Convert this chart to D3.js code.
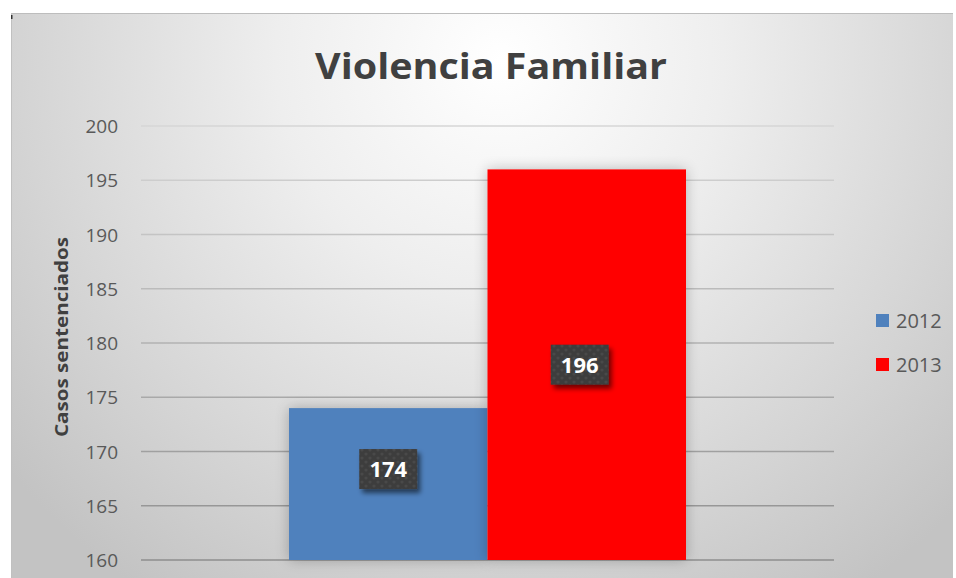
<!DOCTYPE html>
<html><head><meta charset="utf-8">
<script src="https://cdn.jsdelivr.net/npm/d3@7"></script>
<style>html,body{margin:0;padding:0;background:#fff;}svg{display:block;}</style>
</head><body>
<script>
const categories = ["Violencia Familiar"];
const seriesNames = ["2012", "2013"];
const seriesValues = [174, 196];
const seriesColors = ["#4f81bd", "#ff0000"];
const yTicks = [160, 165, 170, 175, 180, 185, 190, 195, 200];
const titleText = "Violencia Familiar";
const yAxisTitle = "Casos sentenciados";

const W = 956, H = 578;
const svg = d3.select("body").append("svg").attr("width", W).attr("height", H);
const defs = svg.append("defs");

const bg = defs.append("radialGradient").attr("id","bg")
  .attr("gradientUnits","userSpaceOnUse").attr("cx",500).attr("cy",60).attr("r",640);
bg.append("stop").attr("offset","0").attr("stop-color","#ffffff");
bg.append("stop").attr("offset","0.35").attr("stop-color","#eeeeee");
bg.append("stop").attr("offset","0.75").attr("stop-color","#d4d4d4");
bg.append("stop").attr("offset","1").attr("stop-color","#c3c3c3");

const barShadow = defs.append("filter").attr("id","barShadow").attr("x","-20%").attr("y","-20%").attr("width","140%").attr("height","140%");
barShadow.append("feGaussianBlur").attr("in","SourceAlpha").attr("stdDeviation",7).attr("result","b");
barShadow.append("feComponentTransfer").attr("in","b").attr("result","c")
  .append("feFuncA").attr("type","linear").attr("slope",0.25);
const m1 = barShadow.append("feMerge");
m1.append("feMergeNode").attr("in","c");
m1.append("feMergeNode").attr("in","SourceGraphic");

const lblShadow = defs.append("filter").attr("id","lblShadow").attr("x","-30%").attr("y","-30%").attr("width","170%").attr("height","170%");
lblShadow.append("feGaussianBlur").attr("in","SourceAlpha").attr("stdDeviation",2.5).attr("result","b");
lblShadow.append("feOffset").attr("in","b").attr("dx",3).attr("dy",4).attr("result","o");
lblShadow.append("feComponentTransfer").attr("in","o").attr("result","c")
  .append("feFuncA").attr("type","linear").attr("slope",0.55);
const m2 = lblShadow.append("feMerge");
m2.append("feMergeNode").attr("in","c");
m2.append("feMergeNode").attr("in","SourceGraphic");

const pat = defs.append("pattern").attr("id","dots").attr("patternUnits","userSpaceOnUse").attr("width",8).attr("height",8);
pat.append("rect").attr("width",8).attr("height",8).attr("fill","#3d3d3d");
pat.append("circle").attr("cx",2).attr("cy",2).attr("r",1.6).attr("fill","#4a4a4a");
pat.append("circle").attr("cx",6).attr("cy",6).attr("r",1.6).attr("fill","#4a4a4a");

// chart area
svg.append("rect").attr("x",11).attr("y",13).attr("width",942).attr("height",H-13).attr("fill","url(#bg)");
svg.append("line").attr("x1",11).attr("x2",953).attr("y1",13.5).attr("y2",13.5).attr("stroke","#bdbdbd").attr("stroke-width",1);
svg.append("line").attr("x1",11.5).attr("x2",11.5).attr("y1",13).attr("y2",H).attr("stroke","#c0c0c0").attr("stroke-width",1);
svg.append("rect").attr("x",11).attr("y",15).attr("width",1.5).attr("height",4).attr("fill","#333");

const plot = {left:141, right:834, top:126, bottom:560};
const y = d3.scaleLinear().domain([160,200]).range([plot.bottom, plot.top]);
const x0 = d3.scaleBand().domain(categories).range([plot.left, plot.right]).paddingInner(0).paddingOuter(0.3728);
const x1 = d3.scaleBand().domain(seriesNames).range([0, x0.bandwidth()]).padding(0);

// gridlines
const gcol = d3.scaleLinear().domain([plot.top, plot.bottom]).range(["#d6d6d6","#8e8e8e"]);
svg.append("g").selectAll("line").data(yTicks).join("line")
  .attr("x1",plot.left).attr("x2",plot.right)
  .attr("y1",d=>y(d)).attr("y2",d=>y(d))
  .attr("stroke",d=>gcol(y(d))).attr("stroke-width",1.6);

// y axis labels via d3 axis
const yAxis = d3.axisLeft(y).tickValues(yTicks).tickSize(0).tickPadding(0).tickFormat(d3.format("d"));
const ag = svg.append("g").attr("transform",`translate(118,0)`).call(yAxis);
ag.select(".domain").remove();
ag.selectAll("text").attr("font-family","'Open Sans', sans-serif").attr("font-size",19).attr("fill","#595959").attr("dy","0.35em");

// bars
const data = seriesNames.map((s,i)=>({s, v:seriesValues[i], c:seriesColors[i]}));
const gb = svg.append("g");
data.forEach(d=>{
  gb.append("rect")
    .attr("x", x0(categories[0]) + x1(d.s))
    .attr("y", y(d.v))
    .attr("width", x1.bandwidth())
    .attr("height", y(160) - y(d.v))
    .attr("fill", d.c)
    .attr("filter","url(#barShadow)");
});

// data labels
const lblNudge = [-15, 0];
data.forEach((d,i)=>{
  const cx = x0(categories[0]) + x1(d.s) + x1.bandwidth()/2 + (i===1?-7:0);
  const cy = (y(d.v) + y(160))/2 + lblNudge[i];
  const g = svg.append("g");
  g.append("rect").attr("x",cx-29).attr("y",cy-20).attr("width",58).attr("height",40)
    .attr("fill","url(#dots)").attr("filter","url(#lblShadow)");
  g.append("text").attr("x",cx).attr("y",cy).attr("dy","0.36em").attr("text-anchor","middle")
    .attr("font-family","'Open Sans', sans-serif").attr("font-weight","bold").attr("font-size",22)
    .attr("fill","#ffffff").text(d3.format("d")(d.v));
});

// title
svg.append("text").attr("x",491).attr("y",79).attr("text-anchor","middle")
  .attr("font-family","'Open Sans', sans-serif").attr("font-weight","bold").attr("font-size",36)
  .attr("fill","#404040").attr("textLength",352).attr("lengthAdjust","spacingAndGlyphs").text(titleText);

// y axis title
svg.append("text").attr("transform","translate(68,337) rotate(-90)").attr("text-anchor","middle")
  .attr("font-family","'Open Sans', sans-serif").attr("font-weight","bold").attr("font-size",18)
  .attr("fill","#404040").attr("textLength",200).attr("lengthAdjust","spacingAndGlyphs").text(yAxisTitle);

// legend
const lg = svg.append("g");
data.forEach((d,i)=>{
  const ly = 321 + i*44;
  lg.append("rect").attr("x",876).attr("y",ly-7).attr("width",13).attr("height",13).attr("fill",d.c);
  lg.append("text").attr("x",896).attr("y",ly).attr("dy","0.35em")
    .attr("font-family","'Open Sans', sans-serif").attr("font-size",20).attr("fill","#595959").text(d.s);
});
</script>
</body></html>
